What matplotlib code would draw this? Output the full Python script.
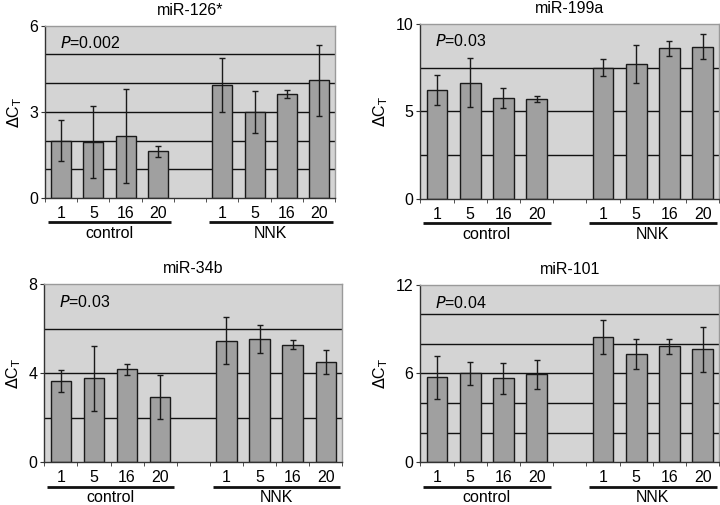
import matplotlib
matplotlib.use("Agg")
import matplotlib.pyplot as plt
import matplotlib.transforms as mtransforms
import numpy as np

plt.rcParams['font.family'] = ['Liberation Sans', 'DejaVu Sans']

tick_labels = ["1", "5", "16", "20", "1", "5", "16", "20"]
groups = ["control", "NNK"]

titles = ["miR-126*", "miR-199a", "miR-34b", "miR-101"]
pvals = ["0.002", "0.03", "0.03", "0.04"]

vals_126 = [2.00, 1.95, 2.15, 1.62, 3.93, 2.98, 3.61, 4.10]
err_126 = [0.71, 1.25, 1.63, 0.20, 0.95, 0.73, 0.14, 1.23]
vals_199 = [6.24, 6.63, 5.76, 5.70, 7.49, 7.70, 8.61, 8.69]
err_199 = [0.85, 1.40, 0.55, 0.16, 0.50, 1.08, 0.43, 0.70]
vals_34 = [3.65, 3.77, 4.17, 2.92, 5.47, 5.53, 5.29, 4.51]
err_34 = [0.50, 1.45, 0.24, 1.00, 1.04, 0.64, 0.20, 0.53]
vals_101 = [5.73, 6.00, 5.68, 5.93, 8.49, 7.31, 7.83, 7.63]
err_101 = [1.43, 0.80, 1.05, 0.98, 1.14, 1.00, 0.50, 1.50]

ymax = [6, 10, 8, 12]
yticks = [[0, 3, 6], [0, 5, 10], [0, 4, 8], [0, 6, 12]]
ygrid = [[1, 2, 3, 4, 5], [2.5, 5, 7.5], [2, 4, 6], [2, 4, 6, 8, 10]]

data = [(vals_126, err_126), (vals_199, err_199), (vals_34, err_34), (vals_101, err_101)]

# axes positions in figure fraction [left, bottom, width, height]
positions = [
    [0.0625, 0.608, 0.403, 0.341],
    [0.584, 0.606, 0.415, 0.347],
    [0.0615, 0.085, 0.414, 0.352],
    [0.584, 0.085, 0.415, 0.351],
]

fig = plt.figure(figsize=(7.2, 5.05), dpi=100)

xpos = [0, 1, 2, 3, 5, 6, 7, 8]

for i in range(4):
    ax = fig.add_axes(positions[i])
    vals, errs = data[i]
    ax.set_facecolor('#d4d4d4')
    for g in ygrid[i]:
        ax.axhline(g, color='#111111', lw=1.0, zorder=1)
    ax.bar(xpos, vals, width=0.62, color='#a0a0a0', edgecolor='#1a1a1a',
           linewidth=1.0, zorder=2)
    ax.errorbar(xpos, vals, yerr=errs, fmt='none', ecolor='#1a1a1a',
                elinewidth=1.0, capsize=2.5, capthick=1.0, zorder=3)
    ax.set_xlim(-0.5, 8.5)
    ax.set_ylim(0, ymax[i])
    ax.set_yticks(yticks[i])
    ax.set_yticklabels([str(t) for t in yticks[i]], fontsize=11.5)
    ax.set_xticks(xpos)
    ax.set_xticklabels(tick_labels, fontsize=11.5)
    ax.tick_params(axis='x', which='major', length=0, pad=6)
    ax.set_xticks(np.arange(-0.5, 9.0, 1.0), minor=True)
    ax.tick_params(axis='x', which='minor', length=3, direction='out', color='#333333')
    ax.tick_params(axis='y', length=3, direction='out', color='#333333', pad=2)
    for s in ['top', 'right']:
        ax.spines[s].set_color('#9a9a9a')
        ax.spines[s].set_linewidth(1.0)
    for s in ['left', 'bottom']:
        ax.spines[s].set_color('#333333')
        ax.spines[s].set_linewidth(1.0)
    ax.set_title(titles[i], fontsize=11.5, pad=8)
    ax.set_ylabel(r'$\Delta$C$_\mathrm{T}$', fontsize=11.5, labelpad=4)
    ax.text(0.05, 0.90, r'$\it{P}$=' + pvals[i], transform=ax.transAxes,
            fontsize=11.5, va='center', ha='left')
    h_px = positions[i][3] * 505
    line_y = -24.5 / h_px
    label_y = -40.0 / h_px
    trans = mtransforms.blended_transform_factory(ax.transData, ax.transAxes)
    spans = [(-0.42, 3.42), (4.58, 8.42)]
    for (x0, x1), gname in zip(spans, groups):
        ax.plot([x0, x1], [line_y, line_y], color='#111111', lw=2.0,
                transform=trans, clip_on=False, solid_capstyle='butt')
        ax.text((x0 + x1) / 2, label_y, gname, transform=trans, fontsize=11.5,
                ha='center', va='baseline')

fig.savefig('out.png', dpi=100)
